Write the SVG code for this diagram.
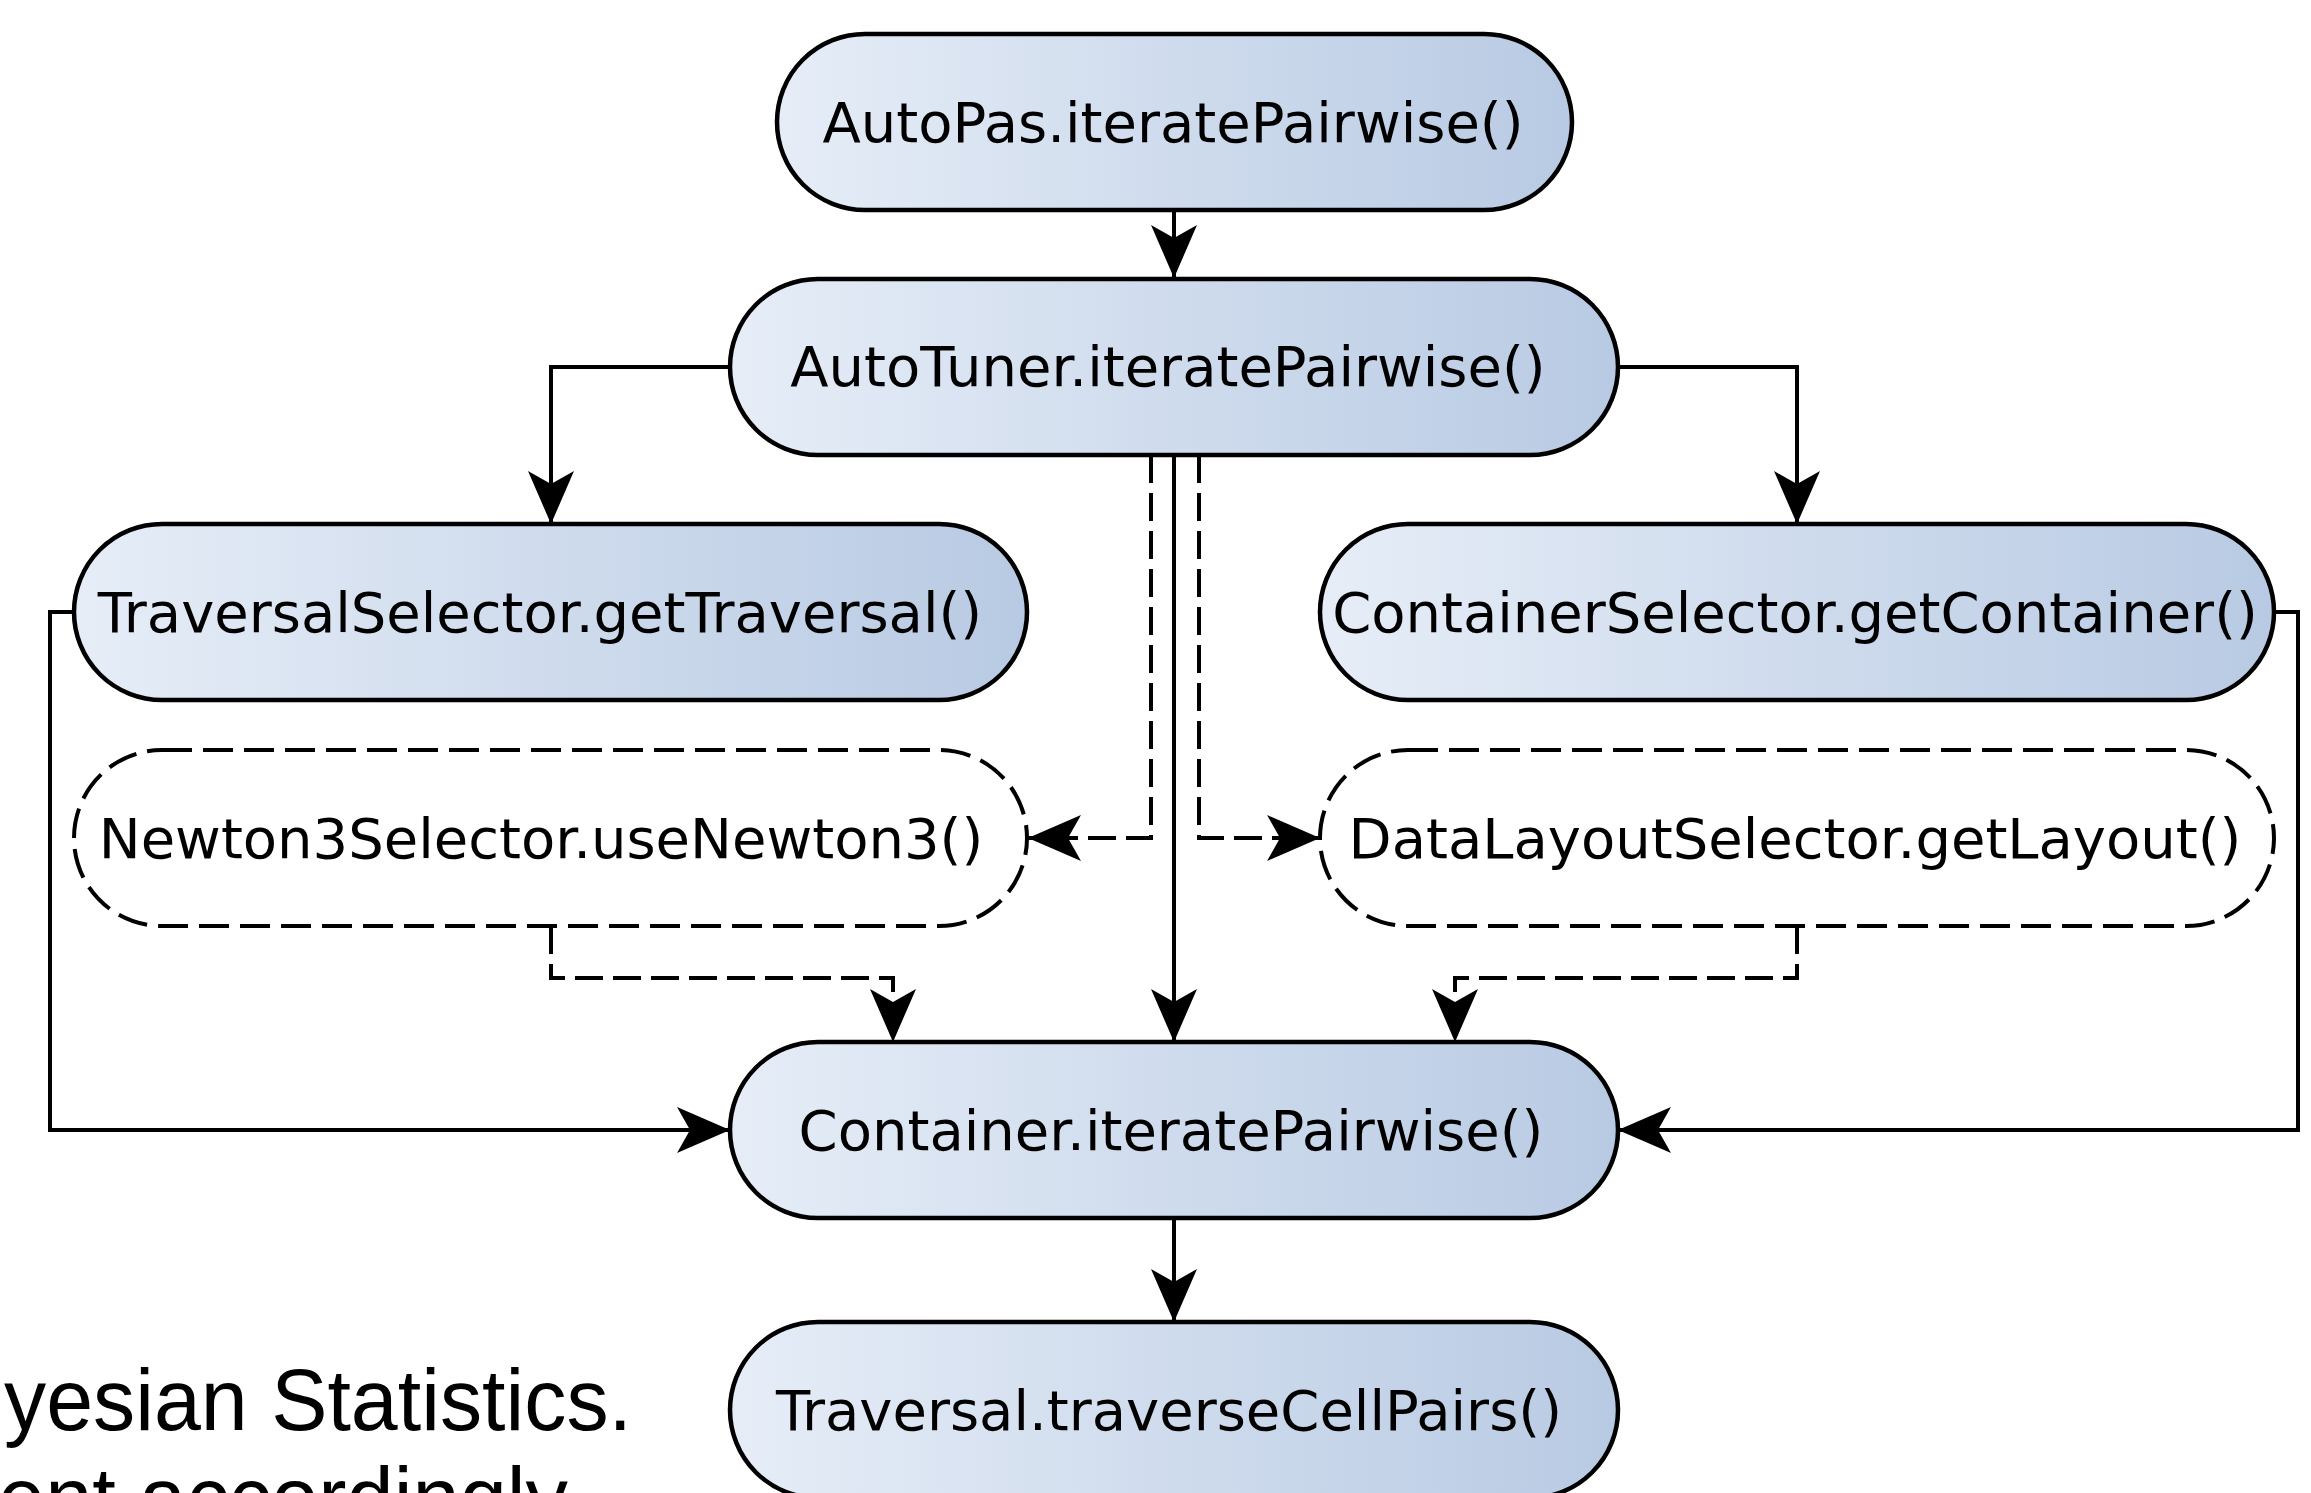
<svg xmlns="http://www.w3.org/2000/svg" width="2311" height="1493" viewBox="0 0 2311 1493">
<defs>
<linearGradient id="fillGrad" x1="0" y1="0" x2="1" y2="0">
<stop offset="0" stop-color="#e6edf7"/>
<stop offset="1" stop-color="#b8cae3"/>
</linearGradient>
<marker id="arrow" markerUnits="userSpaceOnUse" viewBox="-54 -24 56 48" refX="0" refY="0" markerWidth="56" markerHeight="48" orient="auto">
<path d="M0,0 L-53,-23 L-40,0 L-53,23 Z" fill="#000"/>
</marker>
<style>
.node { fill: url(#fillGrad); stroke: #000; stroke-width: 4.5; }
.opt { fill: #fff; stroke: #000; stroke-width: 4; stroke-dasharray: 30 11; }
.lbl { font-family: "DejaVu Sans", sans-serif; font-size: 56px; fill: #000; text-anchor: middle; }
.bg { font-family: "Liberation Sans", Arial, sans-serif; font-size: 88px; fill: #000; }
.conn { fill: none; stroke: #000; stroke-width: 4; marker-end: url(#arrow); }
.dash { stroke-dasharray: 28 10; }
</style>
</defs>
<rect x="0" y="0" width="2311" height="1493" fill="#fff"/>

<g id="background-text">
<text class="bg" x="4" y="1430" textLength="628" lengthAdjust="spacingAndGlyphs">yesian Statistics.</text>
<text class="bg" x="-2" y="1528" textLength="570" lengthAdjust="spacingAndGlyphs">ent accordingly</text>
</g>

<g id="node-autopas">
<rect class="node" x="777" y="34" width="795" height="176" rx="88" ry="88"/>
<text class="lbl" x="1173" y="142">AutoPas.iteratePairwise()</text>
</g>
<g id="node-autotuner">
<rect class="node" x="730" y="279" width="888" height="176" rx="88" ry="88"/>
<text class="lbl" x="1168" y="386">AutoTuner.iteratePairwise()</text>
</g>
<g id="node-traversalselector">
<rect class="node" x="74" y="524" width="953" height="176" rx="88" ry="88"/>
<text class="lbl" x="540" y="632">TraversalSelector.getTraversal()</text>
</g>
<g id="node-containerselector">
<rect class="node" x="1320" y="524" width="954" height="176" rx="88" ry="88"/>
<text class="lbl" x="1795" y="632">ContainerSelector.getContainer()</text>
</g>
<g id="node-newton3selector">
<rect class="opt" x="74" y="750" width="953" height="176" rx="88" ry="88"/>
<text class="lbl" x="541" y="858">Newton3Selector.useNewton3()</text>
</g>
<g id="node-datalayoutselector">
<rect class="opt" x="1320" y="750" width="954" height="176" rx="88" ry="88"/>
<text class="lbl" x="1795" y="858">DataLayoutSelector.getLayout()</text>
</g>
<g id="node-container">
<rect class="node" x="730" y="1042" width="888" height="176" rx="88" ry="88"/>
<text class="lbl" x="1171" y="1150">Container.iteratePairwise()</text>
</g>
<g id="node-traversal">
<rect class="node" x="730" y="1322" width="888" height="176" rx="88" ry="88"/>
<text class="lbl" x="1169" y="1430">Traversal.traverseCellPairs()</text>
</g>

<g id="connectors">
<path class="conn" d="M1174,210 V278"/>
<path class="conn" d="M730,367 H551 V524"/>
<path class="conn" d="M1618,367 H1797 V524"/>
<path class="conn" d="M1174,455 V1042"/>
<path class="conn dash" d="M1151,455 V838 H1028"/>
<path class="conn dash" d="M1199,455 V838 H1320"/>
<path class="conn dash" d="M551,926 V978 H893 V1042"/>
<path class="conn dash" d="M1797,926 V978 H1455 V1042"/>
<path class="conn" d="M74,612 H50 V1130 H730"/>
<path class="conn" d="M2274,612 H2298 V1130 H1618"/>
<path class="conn" d="M1174,1218 V1322"/>
</g>
</svg>
